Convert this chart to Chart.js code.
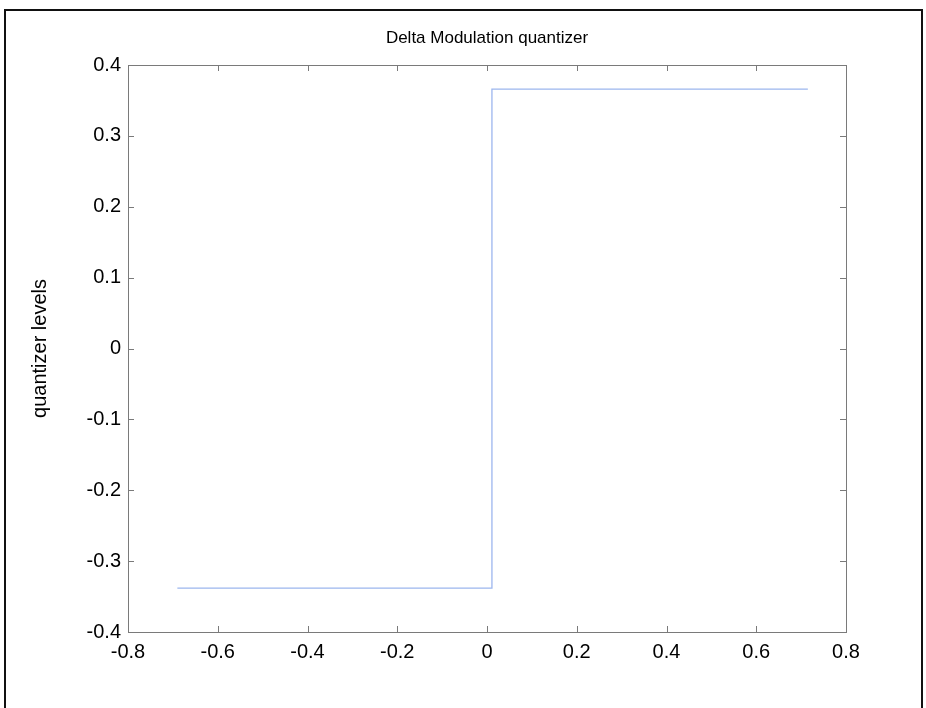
<!DOCTYPE html>
<html>
<head>
<meta charset="utf-8">
<script src="https://cdn.jsdelivr.net/npm/chart.js@4.4.0/dist/chart.umd.min.js"></script>
<style>
  html, body { margin: 0; padding: 0; background: #fff; }
  #wrap { position: relative; width: 926px; height: 708px; }
  #frame { position: absolute; left: 4px; top: 9px; width: 919px; height: 699px;
           border-left: 2px solid #111; border-top: 2px solid #111; border-right: 2px solid #111; box-sizing: border-box; }
  canvas { position: absolute; left: 0; top: 0; }
</style>
</head>
<body>
<div id="wrap">
  <canvas id="c" width="926" height="708"></canvas>
  <div id="frame"></div>
</div>
<script>
// ---- data ----
const chartTitle = 'Delta Modulation quantizer';
const yAxisTitle = 'quantizer levels';
const inputX = [-0.69, 0.011, 0.011, 0.715];
const quantLevels = [-0.338, -0.338, 0.366, 0.366];
const xTickValues = [-0.8, -0.6, -0.4, -0.2, 0, 0.2, 0.4, 0.6, 0.8];
const xTickLabels = ['-0.8', '-0.6', '-0.4', '-0.2', '0', '0.2', '0.4', '0.6', '0.8'];
const yTickValues = [-0.4, -0.3, -0.2, -0.1, 0, 0.1, 0.2, 0.3, 0.4];
const yTickLabels = ['-0.4', '-0.3', '-0.2', '-0.1', '0', '0.1', '0.2', '0.3', '0.4'];

const points = inputX.map((x, i) => ({ x: x, y: quantLevels[i] }));
const FONT = "'Liberation Sans', Arial, Helvetica, sans-serif";

function labelFor(values, labels, v) {
  for (let i = 0; i < values.length; i++) if (Math.abs(values[i] - v) < 1e-9) return labels[i];
  return '';
}

const boxPlugin = {
  id: 'matlabBox',
  afterDraw(chart) {
    const ctx = chart.ctx;
    const a = chart.chartArea;
    const xs = chart.scales.x, ys = chart.scales.y;
    ctx.save();
    ctx.strokeStyle = '#7a7a7a';
    ctx.lineWidth = 1;
    ctx.strokeRect(Math.round(a.left) + 0.5, Math.round(a.top) + 0.5,
                   Math.round(a.right - a.left), Math.round(a.bottom - a.top));
    const tl = 6;
    ctx.beginPath();
    xTickValues.forEach(v => {
      const px = Math.round(xs.getPixelForValue(v)) + 0.5;
      ctx.moveTo(px, a.bottom); ctx.lineTo(px, a.bottom - tl);
      ctx.moveTo(px, a.top); ctx.lineTo(px, a.top + tl);
    });
    yTickValues.forEach(v => {
      const py = Math.round(ys.getPixelForValue(v)) + 0.5;
      ctx.moveTo(a.left, py); ctx.lineTo(a.left + tl, py);
      ctx.moveTo(a.right, py); ctx.lineTo(a.right - tl, py);
    });
    ctx.stroke();
    // title
    ctx.fillStyle = '#000';
    ctx.font = '17px ' + FONT;
    ctx.textAlign = 'center';
    ctx.textBaseline = 'middle';
    ctx.fillText(chartTitle, (a.left + a.right) / 2, 38);
    ctx.restore();
  }
};

new Chart(document.getElementById('c'), {
  type: 'line',
  data: {
    datasets: [{
      data: points,
      borderColor: '#9cb6ee',
      borderWidth: 1.3,
      pointRadius: 0,
      fill: false,
      tension: 0
    }]
  },
  options: {
    responsive: false,
    devicePixelRatio: 1,
    animation: false,
    layout: { padding: { top: 65, right: 80, left: 0, bottom: 0 } },
    plugins: { legend: { display: false }, tooltip: { enabled: false }, title: { display: false } },
    scales: {
      x: {
        type: 'linear',
        min: -0.8, max: 0.8,
        afterFit(s) { s.height = 76; },
        afterBuildTicks(s) { s.ticks = xTickValues.map(v => ({ value: v })); },
        border: { display: false },
        grid: { display: false, drawTicks: false },
        ticks: {
          padding: 8,
          color: '#000',
          font: { family: FONT, size: 20 },
          maxRotation: 0,
          callback: v => labelFor(xTickValues, xTickLabels, v)
        }
      },
      y: {
        type: 'linear',
        min: -0.4, max: 0.4,
        afterFit(s) { s.width = 128; },
        afterBuildTicks(s) { s.ticks = yTickValues.map(v => ({ value: v })); },
        border: { display: false },
        grid: { display: false, drawTicks: false },
        title: {
          display: true,
          text: yAxisTitle,
          color: '#000',
          font: { family: FONT, size: 20 },
          padding: { top: 28, bottom: 0 }
        },
        ticks: {
          padding: 7,
          color: '#000',
          font: { family: FONT, size: 20 },
          callback: v => labelFor(yTickValues, yTickLabels, v)
        }
      }
    }
  },
  plugins: [boxPlugin]
});
</script>
</body>
</html>
